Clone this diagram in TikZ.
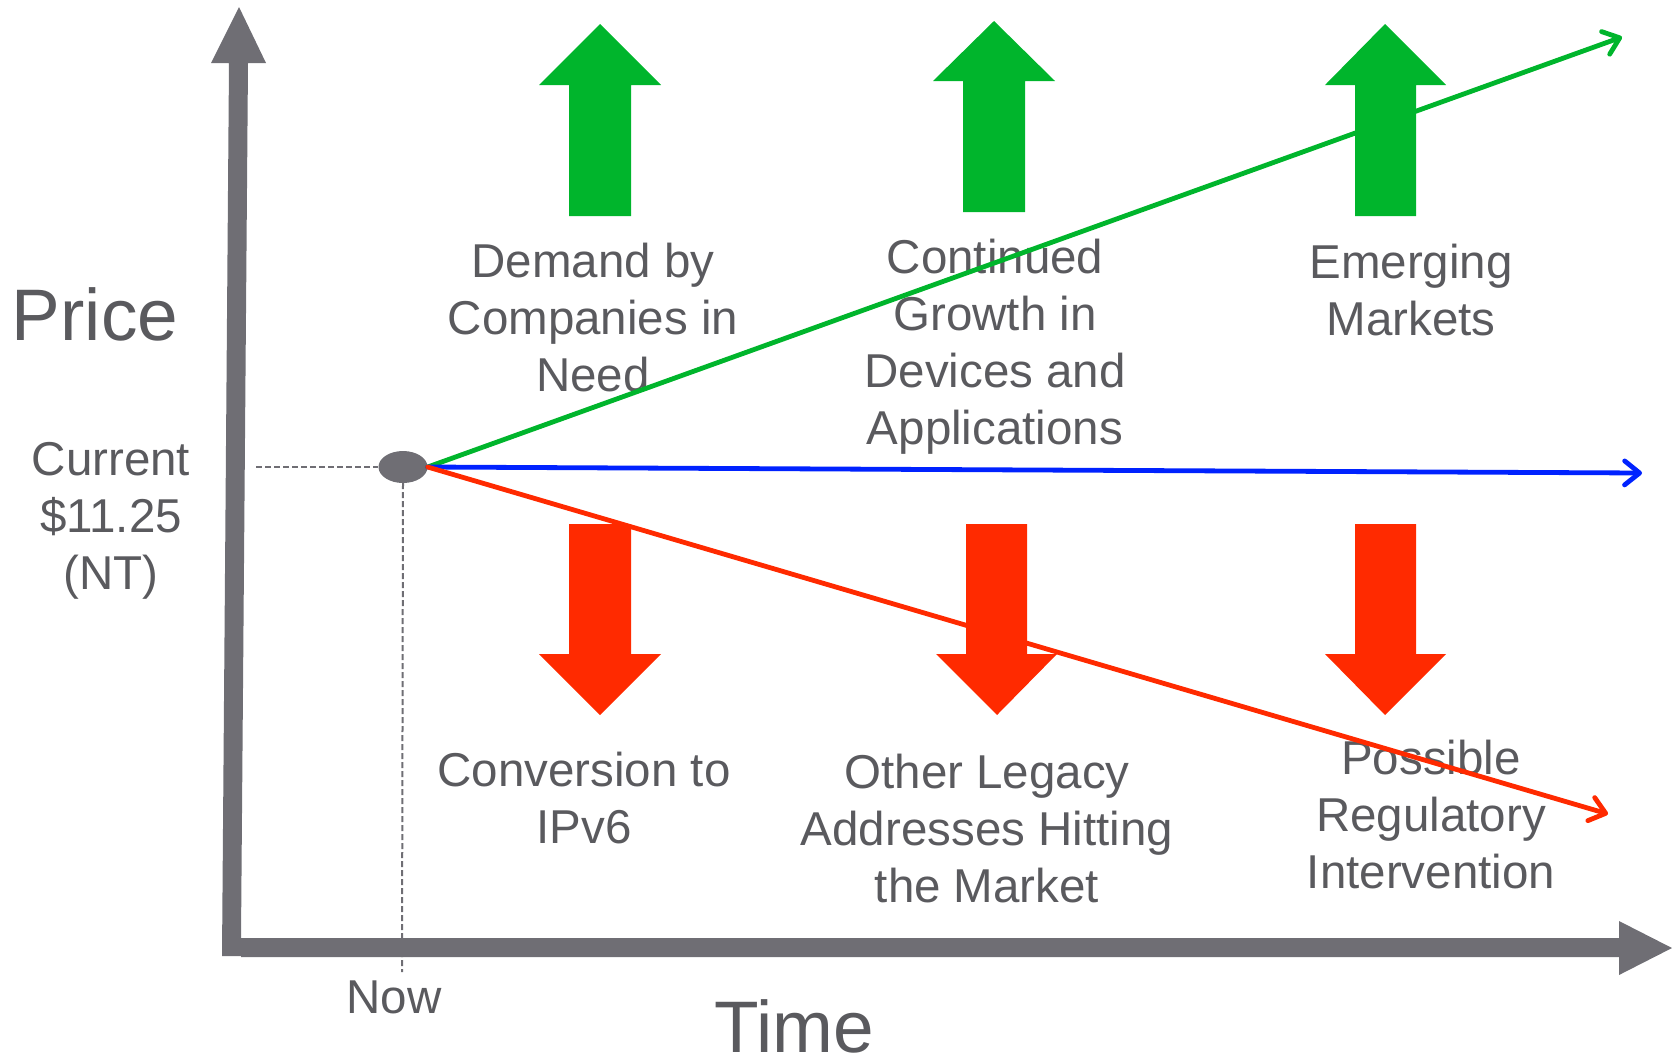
\documentclass[tikz,border=0pt]{standalone}
\usepackage{fontspec}
\setmainfont{Liberation Sans}
\usetikzlibrary{arrows.meta,shapes.geometric}
\definecolor{axisgray}{RGB}{111,110,116}
\definecolor{txtgray}{RGB}{90,90,94}
\definecolor{upgreen}{RGB}{0,181,44}
\definecolor{downred}{RGB}{255,42,0}
\definecolor{midblue}{RGB}{0,34,255}
\tikzset{
  lbl/.style={text=txtgray, align=center, inner sep=0pt, font=\fontsize{47.5}{57}\selectfont},
  biglbl/.style={text=txtgray, inner sep=0pt, font=\fontsize{73}{80}\selectfont},
  trend/.style={line width=4.8pt, line cap=round, -{Straight Barb[length=15pt,width=24pt,round]}},
  guide/.style={axisgray, line width=2pt, dash pattern=on 6pt off 3pt},
}
\begin{document}
\begin{tikzpicture}[x=1pt,y=-1pt]
\useasboundingbox (0,0) rectangle (1672,1061);
% axes
\fill[axisgray] (222,956) -- (241,956) -- (241,957) -- (1619,957) -- (1619,975) -- (1672,948) -- (1619,921) -- (1619,938) -- (241,938) -- (248,63) -- (266,63) -- (239,7) -- (211,63) -- (229,63) -- cycle;
% green up arrows
\fill[upgreen] (569,216) -- (631,216) -- (631,85) -- (661,85) -- (600,24) -- (539,85) -- (569,85) -- cycle;
\fill[upgreen] (963,212) -- (1025,212) -- (1025,81) -- (1055,81) -- (994,21) -- (933,81) -- (963,81) -- cycle;
\fill[upgreen] (1355,216) -- (1416,216) -- (1416,85) -- (1446,85) -- (1385,24) -- (1325,85) -- (1355,85) -- cycle;
% red down arrows
\fill[downred] (569,524) -- (631,524) -- (631,654) -- (661,654) -- (600,715) -- (539,654) -- (569,654) -- cycle;
\fill[downred] (966,524) -- (1027,524) -- (1027,654) -- (1057,654) -- (997,715) -- (936,654) -- (966,654) -- cycle;
\fill[downred] (1355,524) -- (1416,524) -- (1416,654) -- (1446,654) -- (1385,715) -- (1325,654) -- (1355,654) -- cycle;
% labels
\node[biglbl] (price) at (95,314) {Price};
\node[biglbl] (time) at (794,1026) {Time};
\node[lbl] (now) at (394,997) {Now};
\node[lbl] (current) at (111,521) {Current\\\$11.25\\(NT)};
\node[lbl] (demand) at (593,318) {Demand by\\Companies in\\Need};
\node[lbl] (growth) at (995,347) {Continued\\Growth in\\Devices and\\Applications};
\node[lbl] (emerging) at (1411,290) {Emerging\\Markets};
\node[lbl] (ipv6) at (584,798) {Conversion to\\IPv6};
\node[lbl] (legacy) at (987,829) {Other Legacy\\Addresses Hitting\\the Market};
\node[lbl] (regul) at (1431,815) {Possible\\Regulatory\\Intervention};
% current point
\node[ellipse, fill=axisgray, minimum width=49pt, minimum height=32pt, inner sep=0pt] (pt) at (403,467) {};
\coordinate (hstart) at (256,467);
\coordinate (vend) at (402,972);
\coordinate (gend) at (1622,37);
\coordinate (bend) at (1642,473);
\coordinate (rend) at (1608,814);
\draw[guide] (hstart) -- (pt.west);
\draw[guide] (pt.south) -- (vend);
\draw[trend, upgreen] (pt.east) -- (gend);
\draw[trend, midblue] (pt.east) -- (bend);
\draw[trend, downred] (pt.east) -- (rend);
\end{tikzpicture}
\end{document}
